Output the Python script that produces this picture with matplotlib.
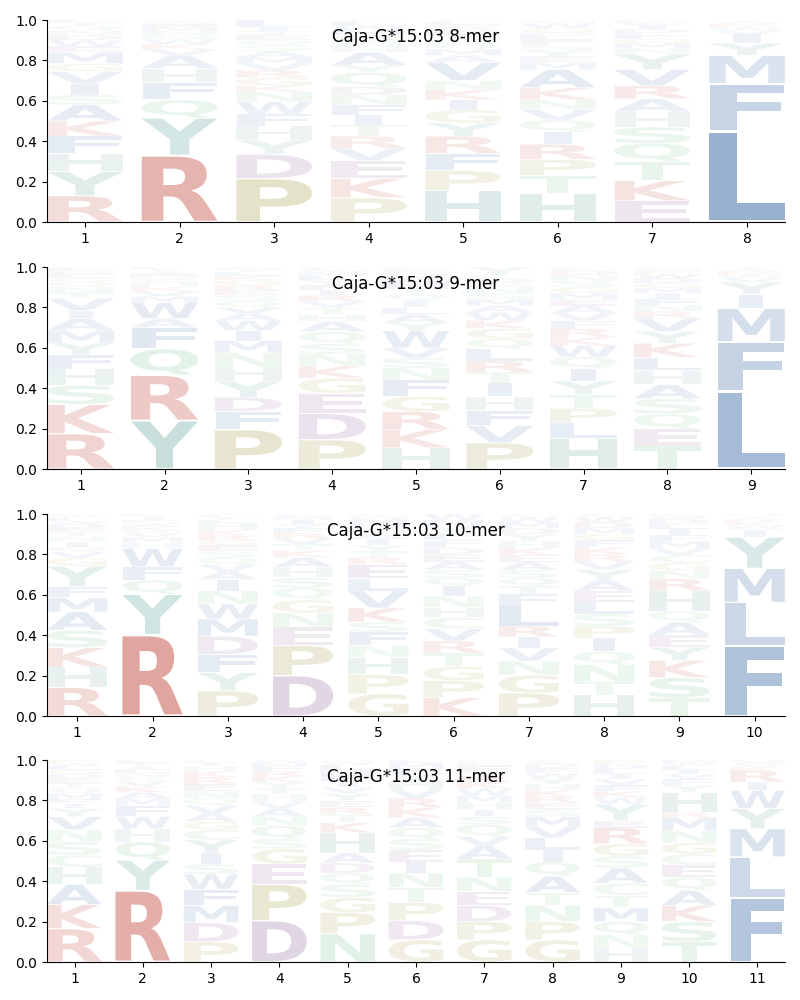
import numpy as np
import matplotlib
matplotlib.use("Agg")
import matplotlib.pyplot as plt
from matplotlib.textpath import TextPath
from matplotlib.patches import PathPatch
from matplotlib.font_manager import FontProperties
from matplotlib.transforms import Affine2D

allele = "Caja-G*15:03"

# ---------------- data: letters bottom->top and their frequencies ----------------
mer8_letters = [
    "RYHFKASIVGMEWDNQTL",
    "RYQFHAVKWSNMEGT",
    "PDYHFWNKGRVMASQETIL",
    "PKEVRTIFNDQYAHSGMWLC",
    "HPFRYGIKNVAMQSTEDWLC",
    "HTPRIQVNKAMEYSFLDGWC",
    "EKTQSHARVYNMGFLDIWP",
    "LFMYIVWKRAT",
]
mer8_heights = [
    [.13, .12, .09, .085, .075, .08, .05, .055, .06, .04, .055, .03, .03, .025, .025, .02, .02, .01],
    [.33, .185, .09, .085, .07, .065, .03, .025, .025, .02, .02, .02, .015, .01, .01],
    [.215, .12, .07, .07, .06, .06, .05, .03, .04, .035, .035, .03, .03, .03, .025, .025, .02, .02, .035],
    [.12, .095, .09, .06, .06, .055, .05, .05, .05, .04, .07, .035, .065, .03, .03, .025, .025, .02, .02, .01],
    [.155, .10, .085, .085, .065, .065, .05, .05, .045, .09, .035, .03, .025, .025, .02, .02, .015, .015, .015, .01],
    [.14, .09, .08, .075, .06, .06, .05, .05, .06, .09, .035, .03, .03, .025, .025, .02, .015, .025, .025, .015],
    [.105, .10, .095, .09, .08, .075, .065, .065, .08, .075, .03, .025, .02, .02, .01, .02, .02, .015, .01],
    [.45, .235, .14, .06, .045, .015, .015, .01, .01, .01, .01],
]

mer9_letters = [
    "RKSHFYMAIVTNQGEDLW",
    "YRQFAWMVKHSNETIL",
    "PFDYHNMIWAVQSERGKLTC",
    "PDEGKNSQAHTVRIFYLMWC",
    "HKRGFNSVWYALIQTMEDPC",
    "PVFHITRLQGKWAMSNEDCY",
    "HLPTYIQWKRFVAEMGSNDC",
    "TEQSAHLKYVRNFIMGDWPC",
    "LFMIYVWKRAT",
]
mer9_heights = [
    [.175, .145, .095, .08, .07, .06, .06, .06, .04, .06, .03, .025, .025, .02, .02, .015, .015, .005],
    [.24, .225, .13, .105, .045, .08, .03, .025, .02, .02, .02, .015, .015, .01, .01, .01],
    [.195, .09, .07, .08, .07, .07, .06, .05, .05, .035, .03, .03, .03, .025, .025, .025, .02, .02, .015, .01],
    [.145, .13, .10, .075, .06, .06, .05, .06, .05, .035, .035, .03, .03, .025, .025, .025, .02, .015, .01, .02],
    [.105, .09, .09, .075, .08, .06, .05, .05, .085, .04, .04, .035, .035, .03, .03, .03, .025, .02, .02, .01],
    [.13, .085, .075, .07, .065, .055, .055, .06, .05, .05, .04, .04, .035, .03, .03, .03, .025, .02, .015, .04],
    [.145, .075, .07, .065, .065, .06, .055, .055, .04, .04, .04, .035, .035, .03, .03, .03, .03, .025, .025, .015],
    [.115, .085, .075, .075, .07, .07, .065, .07, .06, .065, .035, .03, .03, .03, .025, .025, .025, .02, .02, .015],
    [.385, .245, .165, .07, .06, .02, .015, .01, .01, .01, .01],
]

mer10_letters = [
    "RHKSAMFYGVQINTEDWLCP",
    "RYQFWHMVSKANEITL",
    "PYFDMWNIAVQSEGRKHLTC",
    "DPENGQSHAKTVRFYIMWL",
    "GPHNFSKVLERTYIAQDMWC",
    "KPGTRVCHNIQSAEDFLYMW",
    "PGNVIRLFTQSAEKHYDMWC",
    "HTNQIPSLEAYVRKFGMDWC",
    "TSKYEAQHRNGCVMFILDWP",
    "FLMYIVWKRATH",
]
mer10_heights = [
    [.14, .10, .095, .085, .09, .07, .055, .10, .04, .03, .025, .025, .025, .02, .02, .02, .015, .015, .01, .01],
    [.40, .20, .07, .065, .09, .03, .025, .02, .015, .015, .015, .01, .01, .01, .01, .01],
    [.125, .09, .09, .09, .085, .075, .065, .055, .04, .035, .035, .03, .03, .025, .025, .025, .035, .015, .01, .02],
    [.20, .15, .09, .07, .065, .06, .05, .05, .05, .035, .03, .03, .025, .025, .02, .02, .015, .01, .005],
    [.11, .095, .085, .06, .065, .05, .07, .085, .06, .07, .035, .03, .03, .03, .025, .025, .02, .03, .01, .015],
    [.09, .085, .07, .065, .06, .06, .055, .05, .055, .05, .04, .04, .04, .035, .035, .035, .035, .035, .03, .03],
    [.115, .09, .07, .065, .055, .055, .10, .06, .04, .04, .04, .04, .035, .035, .035, .035, .03, .03, .025, .015],
    [.105, .065, .085, .065, .065, .06, .06, .06, .055, .05, .055, .04, .035, .035, .035, .03, .03, .03, .025, .015],
    [.09, .10, .085, .065, .06, .065, .055, .10, .06, .04, .04, .035, .035, .035, .03, .03, .025, .025, .015, .01],
    [.35, .215, .17, .155, .03, .015, .015, .015, .01, .01, .01, .01],
]

mer11_letters = [
    "RKAHCSNVYIFMQTEDGLWP",
    "RYQHWFMAKVSNEITL",
    "PDMFWSIYCGAVQNERKHTL",
    "DPEGSQNAVHTYKRFMW",
    "NPGSQDAHKTREYVIFMLWC",
    "GDPTNIESQAKRVHYFML",
    "GPDENTAVQSIHMWKRYFLC",
    "GPNTAQILVMSERKHYWFDC",
    "HNQMTCASGREYWKFVILDP",
    "TSKAQECGNMRHYFVILWD",
    "FLMYWIRKVAH",
]
mer11_heights = [
    [.165, .12, .10, .085, .06, .065, .06, .065, .04, .025, .02, .03, .025, .025, .025, .02, .02, .02, .015, .015],
    [.355, .15, .09, .065, .06, .055, .035, .03, .03, .025, .02, .02, .02, .015, .015, .015],
    [.10, .095, .085, .08, .075, .05, .055, .065, .05, .04, .04, .04, .035, .035, .035, .035, .03, .025, .02, .01],
    [.205, .18, .10, .075, .05, .065, .045, .04, .035, .035, .03, .03, .03, .025, .025, .02, .01],
    [.14, .105, .075, .065, .055, .05, .05, .10, .05, .04, .035, .035, .035, .03, .03, .03, .025, .025, .015, .01],
    [.11, .095, .09, .075, .07, .055, .06, .055, .055, .05, .05, .045, .045, .04, .035, .03, .025, .015],
    [.11, .09, .08, .07, .07, .09, .065, .045, .06, .04, .035, .035, .035, .035, .03, .03, .025, .025, .015, .015],
    [.11, .09, .08, .065, .08, .07, .06, .06, .055, .05, .035, .035, .03, .03, .03, .03, .025, .025, .025, .015],
    [.07, .065, .065, .07, .06, .06, .075, .06, .06, .08, .035, .08, .035, .03, .03, .03, .025, .025, .025, .02],
    [.10, .10, .08, .075, .065, .06, .055, .055, .06, .065, .025, .10, .035, .03, .025, .02, .02, .015, .015],
    [.32, .20, .14, .10, .09, .04, .06, .015, .015, .01, .01],
]

panels = [
    ("8-mer", mer8_letters, mer8_heights),
    ("9-mer", mer9_letters, mer9_heights),
    ("10-mer", mer10_letters, mer10_heights),
    ("11-mer", mer11_letters, mer11_heights),
]

# ---------------- styling ----------------
red = "#c85a4e"
blue = "#557fb2"
teal = "#5ea399"
tealgrey = "#78ada6"
olive = "#aaa656"
purple = "#9a72a3"
green = "#78c287"
aa_colors = {}
for a in "RK":
    aa_colors[a] = red
for a in "LFMWVAI":
    aa_colors[a] = blue
aa_colors["Y"] = teal
aa_colors["H"] = tealgrey
for a in "PG":
    aa_colors[a] = olive
for a in "DE":
    aa_colors[a] = purple
for a in "QNSTC":
    aa_colors[a] = green

FP = FontProperties(family="DejaVu Sans", weight="bold")
E_WIDTH = TextPath((0, 0), "E", size=1, prop=FP).get_extents().width
WIDTH = 0.8
VPAD = 0.04


def draw_letter(ax, ch, xc, y0, h, color, alpha):
    tp = TextPath((0, 0), ch, size=1, prop=FP)
    bb = tp.get_extents()
    hs = min(WIDTH / bb.width, WIDTH / E_WIDTH)
    cw = bb.width * hs
    hh = h * (1 - VPAD)
    tr = (Affine2D().translate(-bb.x0, -bb.y0)
          .scale(hs, hh / bb.height)
          .translate(xc - cw / 2, y0 + h * VPAD / 2))
    path = tr.transform_path(tp)
    ax.add_patch(PathPatch(path, facecolor=color, edgecolor="none",
                           alpha=alpha, lw=0))


fig = plt.figure(figsize=(8, 10), dpi=100)
tops = [0.980, 0.733, 0.486, 0.240]
hgt = 0.202
for (name, letters, heights), top in zip(panels, tops):
    ax = fig.add_axes([0.059, top - hgt, 0.922, hgt])
    n = len(letters)
    for i, (lets, hs) in enumerate(zip(letters, heights)):
        hs = np.asarray(hs, dtype=float)
        hs = hs / hs.sum()
        y = 0.0
        for ch, h in zip(lets, hs):
            alpha = min(1.0, 0.04 + 1.25 * h)
            draw_letter(ax, ch, i + 1, y, h, aa_colors[ch], alpha)
            y += h
    ax.set_xlim(0.6, n + 0.4)
    ax.set_ylim(0, 1)
    ax.set_xticks(range(1, n + 1))
    ax.set_yticks([0, 0.2, 0.4, 0.6, 0.8, 1.0])
    ax.spines["top"].set_visible(False)
    ax.spines["right"].set_visible(False)
    ax.text(0.5, 0.915, f"{allele} {name}", transform=ax.transAxes,
            ha="center", va="center", fontsize=12)

fig.savefig("out.png", dpi=100)
